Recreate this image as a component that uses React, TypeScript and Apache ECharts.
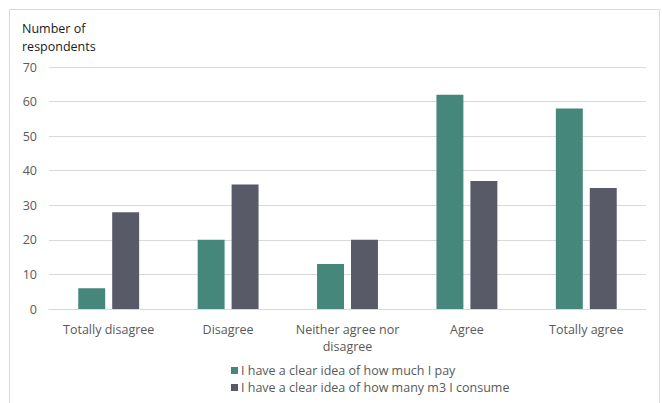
import React, { useEffect, useRef } from "react";
import * as echarts from "echarts";

const categories = ["Totally disagree", "Disagree", "Neither agree nor disagree", "Agree", "Totally agree"];
const seriesNames = ["I have a clear idea of how much I pay", "I have a clear idea of how many m3 I consume"];
const payValues = [6, 20, 13, 62, 58];
const consumeValues = [28, 36, 20, 37, 35];
const yTicks = { min: 0, max: 70, interval: 10 };
const yAxisTitle = "Number of\nrespondents";

export default function App() {
  const ref = useRef<HTMLDivElement>(null);
  useEffect(() => {
    if (!ref.current) return;
    const chart = echarts.init(ref.current, null, { renderer: "svg" });
    const font = "'Open Sans', sans-serif";
    chart.setOption({
      animation: false,
      backgroundColor: "#ffffff",
      textStyle: { fontFamily: font },
      graphic: [
        {
          type: "rect",
          shape: { x: 9.5, y: 9.5, width: 650, height: 420 },
          style: { fill: "none", stroke: "#d9d9d9", lineWidth: 1 },
          silent: true,
        },
        {
          type: "text",
          left: 22,
          top: 19,
          style: { text: yAxisTitle, fontSize: 12.5, fontFamily: font, fill: "#1a1a1a", lineHeight: 18 },
        },
      ],
      grid: { left: 49, right: 16, top: 67, bottom: 94, containLabel: false },
      legend: {
        orient: "vertical",
        left: 226,
        top: 359,
        itemWidth: 7,
        itemHeight: 7,
        itemGap: 4,
        icon: "rect",
        textStyle: { fontSize: 12.5, color: "#595959", fontFamily: font, padding: [0, 0, 0, -2] },
        data: seriesNames,
      },
      xAxis: {
        type: "category",
        data: categories,
        axisLine: { lineStyle: { color: "#d9d9d9" } },
        axisTick: { show: false },
        axisLabel: {
          color: "#595959",
          fontSize: 12.5,
          fontFamily: font,
          margin: 12,
          lineHeight: 17,
          interval: 0,
          formatter: (v: string) => (v === "Neither agree nor disagree" ? "Neither agree nor\ndisagree" : v),
        },
      },
      yAxis: {
        type: "value",
        min: yTicks.min,
        max: yTicks.max,
        interval: yTicks.interval,
        axisLine: { show: false },
        axisTick: { show: false },
        splitLine: { lineStyle: { color: "#d9d9d9" } },
        axisLabel: { color: "#595959", fontSize: 12.5, fontFamily: font, margin: 12 },
      },
      series: [
        {
          name: seriesNames[0],
          type: "bar",
          data: payValues,
          itemStyle: { color: "#45877a" },
          barGap: "26%",
          barCategoryGap: "49%",
        },
        {
          name: seriesNames[1],
          type: "bar",
          data: consumeValues,
          itemStyle: { color: "#585a68" },
          barGap: "26%",
          barCategoryGap: "49%",
        },
      ],
    });
    return () => chart.dispose();
  }, []);
  return <div ref={ref} style={{ position: "fixed", left: 0, top: 0, width: 662, height: 403 }} />;
}
